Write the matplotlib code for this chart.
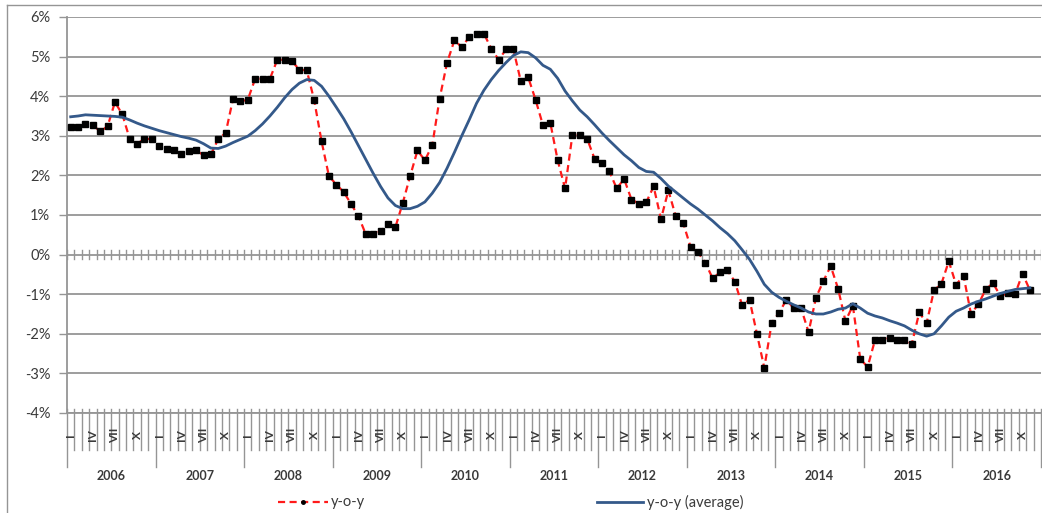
import numpy as np
import matplotlib
matplotlib.use("Agg")
import matplotlib.pyplot as plt
from matplotlib.lines import Line2D
import matplotlib.transforms as mtransforms

plt.rcParams['font.family'] = ['Lato', 'DejaVu Sans']

# data: monthly, Jan 2006 - Nov 2016 (%)
years = [str(y) for y in range(2006, 2017)]
month_labels = ['I', '', '', 'IV', '', '', 'VII', '', '', 'X', '', '']

yoy = [
    3.23, 3.23, 3.30, 3.27, 3.11, 3.24, 3.85, 3.54, 2.92, 2.80, 2.92, 2.92,
    2.73, 2.67, 2.63, 2.54, 2.61, 2.63, 2.51, 2.53, 2.92, 3.07, 3.93, 3.87,
    3.91, 4.44, 4.44, 4.44, 4.92, 4.92, 4.88, 4.67, 4.65, 3.90, 2.86, 1.98,
    1.77, 1.58, 1.28, 0.97, 0.51, 0.51, 0.59, 0.77, 0.69, 1.30, 1.98, 2.63,
    2.38, 2.76, 3.94, 4.84, 5.41, 5.24, 5.49, 5.56, 5.58, 5.20, 4.92, 5.18,
    5.18, 4.38, 4.48, 3.91, 3.27, 3.33, 2.38, 1.67, 3.03, 3.01, 2.92, 2.42,
    2.32, 2.10, 1.67, 1.91, 1.39, 1.29, 1.32, 1.72, 0.90, 1.62, 0.97, 0.80,
    0.20, 0.06, -0.20, -0.60, -0.45, -0.40, -0.68, -1.28, -1.14, -2.00, -2.86, -1.73,
    -1.47, -1.14, -1.36, -1.36, -1.96, -1.09, -0.67, -0.29, -0.86, -1.68, -1.29, -2.63,
    -2.84, -2.16, -2.16, -2.10, -2.16, -2.16, -2.25, -1.46, -1.73, -0.90, -0.74, -0.17,
    -0.76, -0.53, -1.49, -1.26, -0.88, -0.72, -1.05, -0.97, -0.99, -0.48, -0.90,
]

yoy_avg = [
    3.48, 3.50, 3.53, 3.52, 3.51, 3.50, 3.49, 3.47, 3.40, 3.32, 3.25, 3.19,
    3.13, 3.08, 3.03, 2.98, 2.94, 2.89, 2.80, 2.69, 2.68, 2.74, 2.83, 2.91,
    2.99, 3.13, 3.30, 3.50, 3.72, 3.96, 4.17, 4.33, 4.42, 4.40, 4.25, 4.00,
    3.72, 3.43, 3.10, 2.75, 2.40, 2.05, 1.72, 1.43, 1.24, 1.16, 1.16, 1.22,
    1.33, 1.55, 1.82, 2.18, 2.58, 3.00, 3.40, 3.82, 4.15, 4.42, 4.65, 4.85,
    5.03, 5.12, 5.10, 4.97, 4.78, 4.68, 4.45, 4.13, 3.88, 3.65, 3.48, 3.28,
    3.07, 2.88, 2.70, 2.52, 2.37, 2.20, 2.10, 2.08, 1.92, 1.73, 1.58, 1.43,
    1.28, 1.15, 1.00, 0.85, 0.68, 0.53, 0.35, 0.12, -0.12, -0.42, -0.75, -0.95,
    -1.08, -1.18, -1.27, -1.35, -1.45, -1.50, -1.50, -1.45, -1.38, -1.35, -1.24, -1.35,
    -1.48, -1.55, -1.60, -1.67, -1.73, -1.80, -1.91, -2.00, -2.06, -2.00, -1.80, -1.58,
    -1.43, -1.35, -1.25, -1.18, -1.12, -1.05, -0.98, -0.93, -0.88, -0.86, -0.84,
]

W, H = 1042, 513
fig = plt.figure(figsize=(W / 100, H / 100), dpi=100)
# plot area in pixels: x 67..1041, y 17..413
ax = fig.add_axes([67 / W, (H - 413) / H, 974 / W, 396 / H])

grey = '#959595'
txt = '#3a3a3a'
n_months = len(years) * 12
x = np.arange(len(yoy)) + 0.5

ax.plot(x, yoy, color='#ff1a1a', lw=1.6, dashes=(3.2, 2), marker='s',
        markersize=3.8, markerfacecolor='black', markeredgecolor='black', zorder=3)
ax.plot(np.arange(len(yoy_avg)) + 0.5, yoy_avg, color='#34598a', lw=2.0, zorder=4)

ax.set_xlim(0, n_months)
ax.set_ylim(-4, 6)
yt = np.arange(-4, 7)
ax.set_yticks(yt)
ax.set_yticklabels([f'{v}%' for v in yt], fontsize=10.5, color=txt)
ax.tick_params(axis='y', length=6, width=1, color=grey, pad=6)
ax.set_xticks([])
ax.yaxis.grid(True, color=grey, lw=1.3)
ax.set_axisbelow(True)
for s in ['top', 'right']:
    ax.spines[s].set_visible(False)
for s in ['left', 'bottom']:
    ax.spines[s].set_color(grey)
    ax.spines[s].set_linewidth(1.3)

# to pixel-based y in axes fraction
def fy(p):
    return (413 - p) / 396

trans = mtransforms.blended_transform_factory(ax.transData, ax.transAxes)
for k in range(n_months + 1):
    # tick marks on the zero line
    ax.plot([k, k], [-0.12, 0.12], color=grey, lw=1, zorder=2)
    bottom = 467 if k % 12 == 0 else 450
    ax.plot([k, k], [fy(409), fy(bottom)], color=grey, lw=1,
            transform=trans, clip_on=False)

for i, yr in enumerate(years):
    for m, lab in enumerate(month_labels):
        if lab:
            ax.text(i * 12 + m + 0.5, fy(435), lab, transform=trans, rotation=90,
                    ha='center', va='center', fontsize=8.5, color=txt, fontweight='bold')
    ax.text(i * 12 + 6, fy(476), yr, transform=trans, ha='center', va='center',
            fontsize=9, fontweight='bold', color=txt)

# legend drawn below the axis
ly = (H - 502) / H
fig.add_artist(Line2D([278 / W, 328 / W], [ly, ly], color='#ff1a1a', lw=1.6, dashes=(3.2, 2)))
fig.add_artist(Line2D([303 / W], [ly], marker='o', markersize=2.5, color='black'))
fig.text(331 / W, ly, 'y-o-y', fontsize=10.5, color=txt, va='center')
fig.add_artist(Line2D([597 / W, 643 / W], [ly, ly], color='#34598a', lw=2.0))
fig.text(647 / W, ly, 'y-o-y (average)', fontsize=10.5, color=txt, va='center')

# chart area border (left and top edges visible)
fig.add_artist(Line2D([7 / W, 7 / W], [0, (H - 5) / H], color=grey, lw=1))
fig.add_artist(Line2D([7 / W, 1], [(H - 5) / H, (H - 5) / H], color=grey, lw=1))

fig.savefig('out.png', dpi=100)
